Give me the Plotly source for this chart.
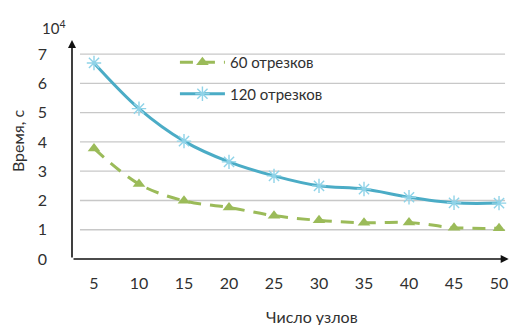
import plotly.graph_objects as go

# Число узлов
nodes = [5, 10, 15, 20, 25, 30, 35, 40, 45, 50]
# Время, с (×10^4)
time_60 = [3.78, 2.56, 1.99, 1.76, 1.48, 1.32, 1.24, 1.25, 1.07, 1.05]
time_120 = [6.70, 5.14, 4.03, 3.32, 2.84, 2.50, 2.39, 2.11, 1.92, 1.91]
y_ticks = [0, 1, 2, 3, 4, 5, 6, 7]

FONT = "Lato"
TXT = "#303030"
GREEN = "#9BBB59"
BLUE = "#4BACC6"

fig = go.Figure()

fig.add_trace(go.Scatter(
    x=nodes, y=time_60, name="60 отрезков", mode="lines+markers",
    line=dict(color=GREEN, width=3, dash="13px,9px", shape="spline"),
    marker=dict(symbol="triangle-up", size=11, color=GREEN),
    legendgroup="a",
))
fig.add_trace(go.Scatter(
    x=nodes, y=time_120, name="120 отрезков", mode="lines+markers",
    line=dict(color=BLUE, width=3, shape="spline"),
    marker=dict(symbol="asterisk-open", size=12, color="#8FD3E8",
                line=dict(width=1.4, color="#8FD3E8")),
    legendgroup="b",
))

# horizontal gridlines
shapes = []
for v in y_ticks[1:]:
    shapes.append(dict(type="line", xref="x", yref="y", x0=3.44, x1=50.67,
                       y0=v, y1=v, line=dict(color="#C8C8C8", width=1.3),
                       layer="below"))
# legend backdrop
shapes.append(dict(type="rect", xref="paper", yref="paper", x0=0.201, x1=0.607,
                   y0=0.69, y1=1.01, fillcolor="white", line=dict(width=0),
                   layer="below"))

annotations = [
    # axis arrows
    dict(xref="x domain", yref="y domain", axref="x domain", ayref="y domain",
         x=0, y=1.005, ax=0, ay=0, showarrow=True, arrowhead=2, arrowsize=1,
         arrowwidth=1.6, arrowcolor="#111", text=""),
    dict(xref="x domain", yref="y domain", axref="x domain", ayref="y domain",
         x=0.997, y=0, ax=0, ay=0, showarrow=True, arrowhead=2, arrowsize=1,
         arrowwidth=1.6, arrowcolor="#111", text=""),
    dict(xref="paper", yref="paper", x=-0.01, y=1.0, xanchor="right", yanchor="bottom",
         yshift=2, text="10<sup>4</sup>", showarrow=False,
         font=dict(family=FONT, size=15, color=TXT)),
    dict(xref="paper", yref="paper", x=-0.1256, y=0.541, xanchor="center", yanchor="middle",
         text="Время, с", textangle=-90, showarrow=False,
         font=dict(family=FONT, size=16, color=TXT)),
    dict(xref="x", yref="paper", x=29.2, y=0, xanchor="center", yanchor="top",
         yshift=-46, text="Число узлов", showarrow=False,
         font=dict(family=FONT, size=16, color=TXT)),
]

fig.update_layout(
    width=510, height=325,
    margin=dict(l=72, r=0, t=41, b=66),
    paper_bgcolor="white", plot_bgcolor="white",
    font=dict(family=FONT, size=16, color=TXT),
    shapes=shapes, annotations=annotations,
    legend=dict(x=0.235, y=0.977, xanchor="left", yanchor="top",
                bgcolor="rgba(0,0,0,0)", font=dict(family=FONT, size=15, color=TXT),
                traceorder="grouped", tracegroupgap=9,
                itemwidth=45),
    showlegend=True,
)
fig.update_xaxes(range=[2.556, 51.22], tickvals=nodes, ticktext=[str(n) for n in nodes],
                 showgrid=False, zeroline=False, showline=False,
                 ticklabelstandoff=13, tickfont=dict(family=FONT, size=16, color=TXT))
fig.update_yaxes(range=[0, 7.45], tickvals=y_ticks, showgrid=False, zeroline=False,
                 showline=False, ticklabelstandoff=24,
                 tickfont=dict(family=FONT, size=16, color=TXT))

fig.write_html("out.html")
